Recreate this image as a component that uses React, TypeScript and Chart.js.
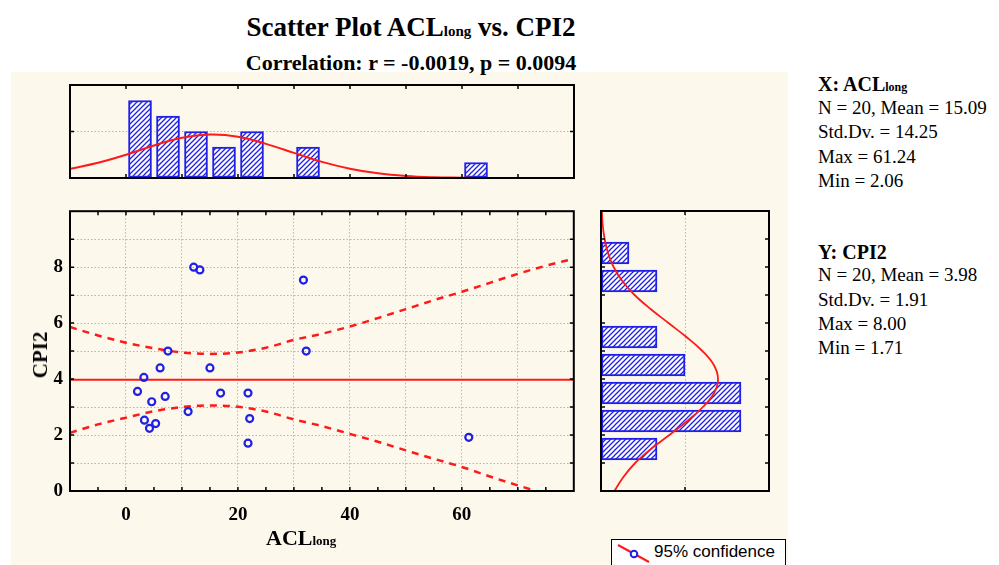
import React, { useEffect, useRef } from "react";
import { Chart, registerables } from "chart.js";
Chart.register(...registerables);

// ---------------- data ----------------
const ACL_LONG = [2.06, 3.2, 6.1, 15.0, 4.6, 7.0, 16.9, 21.8, 11.1, 3.3, 5.3, 4.2, 22.1, 21.8, 61.24, 12.1, 13.2, 31.7, 32.2, 7.5];
const CPI2 = [3.56, 4.06, 4.4, 4.4, 3.19, 3.38, 3.5, 3.5, 2.84, 2.53, 2.41, 2.24, 2.59, 1.71, 1.92, 8.0, 7.9, 7.54, 5.0, 5.0];
const MEAN_CPI2 = 3.98;

const BAND_X = [-10, -5, 0, 5, 10, 15, 20, 25, 30, 35, 40, 45, 50, 55, 60, 65, 70, 75, 80];
const BAND_UPPER = [5.86, 5.56, 5.3, 5.1, 4.95, 4.9, 4.95, 5.12, 5.4, 5.62, 5.88, 6.18, 6.5, 6.82, 7.12, 7.44, 7.76, 8.05, 8.3];
const BAND_LOWER = [2.08, 2.38, 2.62, 2.85, 3.0, 3.06, 3.01, 2.84, 2.56, 2.32, 2.04, 1.76, 1.45, 1.15, 0.86, 0.52, 0.2, -0.1, -0.35];

const X_HIST_CENTERS = [2.5, 7.5, 12.5, 17.5, 22.5, 32.5, 62.5];
const X_HIST_COUNTS = [5, 4, 3, 2, 3, 2, 1];
const X_CURVE_X = [-10, -5, 0, 5, 10, 15, 20, 25, 30, 35, 40, 45, 50, 55, 60, 62];
const X_CURVE_Y = [0.59, 0.98, 1.5, 2.1, 2.6, 2.8, 2.66, 2.2, 1.62, 1.04, 0.6, 0.3, 0.13, 0.05, 0.02, 0.01];

const Y_HIST_CENTERS = [1.5, 2.5, 3.5, 4.5, 5.5, 7.5, 8.5];
const Y_HIST_COUNTS = [2, 5, 5, 3, 2, 2, 1];
const Y_CURVE_Y = [0, 0.5, 1, 1.5, 2, 2.5, 3, 3.5, 4, 4.5, 5, 5.5, 6, 6.5, 7, 7.5, 8, 8.5, 9, 9.5, 10];
const Y_CURVE_COUNT = [0.48, 0.8, 1.22, 1.78, 2.44, 3.08, 3.64, 4.04, 4.18, 4.03, 3.62, 3.05, 2.41, 1.77, 1.2, 0.76, 0.45, 0.25, 0.13, 0.06, 0.03];

const X_TICK_LABELS = [0, 20, 40, 60];
const Y_TICK_LABELS = [0, 2, 4, 6, 8];

// ---------------- style ----------------
const BLUE = "#1f1fe6";
const RED = "#ff1a1a";
const GRID = "#b5b5b5";
const SERIF = "'Liberation Serif', 'Times New Roman', serif";

function makeHatch() {
  const s = 5;
  const c = document.createElement("canvas");
  c.width = s;
  c.height = s;
  const g = c.getContext("2d")!;
  g.fillStyle = "#fff";
  g.fillRect(0, 0, s, s);
  g.strokeStyle = BLUE;
  g.lineWidth = 1.3;
  g.beginPath();
  g.moveTo(0, s);
  g.lineTo(s, 0);
  g.moveTo(-1, 1);
  g.lineTo(1, -1);
  g.moveTo(s - 1, s + 1);
  g.lineTo(s + 1, s - 1);
  g.stroke();
  return g.createPattern(c, "repeat");
}

const framePlugin = {
  id: "frame",
  afterDraw(chart: any, _args: any, opts: any) {
    const { ctx, chartArea } = chart;
    const { left, top, right, bottom } = chartArea;
    ctx.save();
    ctx.strokeStyle = "#000";
    ctx.lineWidth = 1.5;
    const xs = chart.scales.x;
    const ys = chart.scales.y;
    (opts.xTicks || []).forEach((v: number) => {
      const p = xs.getPixelForValue(v);
      ctx.beginPath();
      ctx.moveTo(p, bottom);
      ctx.lineTo(p, bottom - 4);
      ctx.moveTo(p, top);
      ctx.lineTo(p, top + 4);
      ctx.stroke();
    });
    (opts.yTicks || []).forEach((v: number) => {
      const p = ys.getPixelForValue(v);
      ctx.beginPath();
      ctx.moveTo(left, p);
      ctx.lineTo(left + 4, p);
      ctx.moveTo(right, p);
      ctx.lineTo(right - 4, p);
      ctx.stroke();
    });
    ctx.lineWidth = 2;
    ctx.strokeRect(left, top, right - left, bottom - top);
    ctx.restore();
  },
};

function zeroPad(s: any) {
  s.paddingLeft = 0;
  s.paddingRight = 0;
  s.paddingTop = 0;
  s.paddingBottom = 0;
}

function ChartBox({ make, style }: { make: () => any; style: React.CSSProperties }) {
  const ref = useRef<HTMLCanvasElement>(null);
  useEffect(() => {
    const chart = new Chart(ref.current!, make());
    return () => chart.destroy();
  }, []);
  return (
    <canvas
      ref={ref}
      width={style.width as number}
      height={style.height as number}
      style={{ position: "absolute", ...style }}
    />
  );
}

const basePlugins = { legend: { display: false }, tooltip: { enabled: false } };

function makeMain() {
  return {
    type: "scatter",
    data: {
      datasets: [
        {
          data: ACL_LONG.map((x, i) => ({ x, y: CPI2[i] })),
          pointStyle: "circle",
          pointRadius: 3.5,
          pointBorderWidth: 2.2,
          borderColor: BLUE,
          backgroundColor: "rgba(255,255,255,0)",
          pointBackgroundColor: "rgba(255,255,255,0)",
          pointBorderColor: BLUE,
          order: 0,
        },
        {
          data: [{ x: -10, y: MEAN_CPI2 }, { x: 80, y: MEAN_CPI2 }],
          showLine: true,
          borderColor: RED,
          borderWidth: 2,
          pointRadius: 0,
          order: 1,
        },
        {
          data: BAND_X.map((x, i) => ({ x, y: BAND_UPPER[i] })),
          showLine: true,
          borderColor: RED,
          borderWidth: 2.5,
          borderDash: [7, 6],
          pointRadius: 0,
          cubicInterpolationMode: "monotone",
          order: 2,
        },
        {
          data: BAND_X.map((x, i) => ({ x, y: BAND_LOWER[i] })),
          showLine: true,
          borderColor: RED,
          borderWidth: 2.5,
          borderDash: [7, 6],
          pointRadius: 0,
          cubicInterpolationMode: "monotone",
          order: 3,
        },
      ],
    },
    options: {
      responsive: false,
      animation: false,
      layout: { padding: { top: 6, right: 6, left: 0, bottom: 0 } },
      plugins: {
        ...basePlugins,
        frame: { xTicks: [-5, 0, 5, 10, 15, 20, 25, 30, 35, 40, 45, 50, 55, 60, 65, 70, 75], yTicks: [1, 2, 3, 4, 5, 6, 7, 8, 9] },
      },
      scales: {
        x: {
          type: "linear",
          min: -10,
          max: 80,
          border: { display: false, dash: [1.5, 2] },
          grid: { color: GRID, drawTicks: false, lineWidth: 1 },
          ticks: {
            stepSize: 10,
            padding: 13,
            color: "#000",
            font: { family: SERIF, weight: "bold", size: 19 },
            callback: (v: number) => (X_TICK_LABELS.includes(v) ? String(v) : ""),
          },
          afterFit: (s: any) => {
            s.height = 44;
            zeroPad(s);
          },
        },
        y: {
          type: "linear",
          min: 0,
          max: 10,
          border: { display: false, dash: [1.5, 2] },
          grid: { color: GRID, drawTicks: false, lineWidth: 1 },
          ticks: {
            stepSize: 1,
            padding: 7,
            color: "#000",
            font: { family: SERIF, weight: "bold", size: 19 },
            callback: (v: number) => (Y_TICK_LABELS.includes(v) ? String(v) : ""),
          },
          afterFit: (s: any) => {
            s.width = 50;
            zeroPad(s);
          },
        },
      },
    },
    plugins: [framePlugin],
  };
}

function makeTop() {
  return {
    type: "bar",
    data: {
      datasets: [
        {
          type: "line",
          data: X_CURVE_X.map((x, i) => ({ x, y: X_CURVE_Y[i] })),
          borderColor: RED,
          borderWidth: 2,
          pointRadius: 0,
          tension: 0.4,
          order: 0,
        },
        {
          type: "bar",
          data: X_HIST_CENTERS.map((x, i) => ({ x, y: X_HIST_COUNTS[i] })),
          backgroundColor: makeHatch(),
          borderColor: BLUE,
          borderWidth: 2,
          borderSkipped: false,
          barThickness: 23,
          order: 1,
        },
      ],
    },
    options: {
      responsive: false,
      animation: false,
      layout: { padding: { top: 6, right: 6, left: 50, bottom: 1 } },
      plugins: { ...basePlugins, frame: { xTicks: [0, 10, 20, 30, 40, 50, 60, 70], yTicks: [3] } },
      scales: {
        x: {
          type: "linear",
          min: -10,
          max: 80,
          offset: false,
          border: { display: false },
          grid: { display: false, offset: false },
          ticks: { display: false },
          afterFit: (s: any) => {
            s.height = 0;
            zeroPad(s);
          },
        },
        y: {
          type: "linear",
          min: 0,
          max: 6,
          border: { display: false, dash: [1.5, 2] },
          grid: { color: GRID, drawTicks: false },
          ticks: { display: false, stepSize: 3 },
          afterFit: (s: any) => {
            s.width = 0;
            zeroPad(s);
          },
        },
      },
    },
    plugins: [framePlugin],
  };
}

function makeRight() {
  return {
    type: "bar",
    data: {
      datasets: [
        {
          type: "line",
          data: Y_CURVE_Y.map((y, i) => ({ x: Y_CURVE_COUNT[i], y })),
          borderColor: RED,
          borderWidth: 1.8,
          pointRadius: 0,
          tension: 0.4,
          indexAxis: "y",
          order: 0,
        },
        {
          type: "bar",
          data: Y_HIST_CENTERS.map((y, i) => ({ x: Y_HIST_COUNTS[i], y })),
          backgroundColor: makeHatch(),
          borderColor: BLUE,
          borderWidth: 2,
          borderSkipped: false,
          barThickness: 22,
          order: 1,
        },
      ],
    },
    options: {
      indexAxis: "y",
      responsive: false,
      animation: false,
      layout: { padding: { top: 6, right: 6, left: 6, bottom: 6 } },
      plugins: { ...basePlugins, frame: { xTicks: [3], yTicks: [1, 2, 3, 4, 5, 6, 7, 8, 9] } },
      scales: {
        x: {
          type: "linear",
          min: 0,
          max: 6,
          offset: false,
          border: { display: false, dash: [1.5, 2] },
          grid: { color: GRID, drawTicks: false },
          ticks: { display: false, stepSize: 3 },
          afterFit: (s: any) => {
            s.height = 0;
            zeroPad(s);
          },
        },
        y: {
          type: "linear",
          min: 0,
          max: 10,
          offset: false,
          border: { display: false },
          grid: { display: false, offset: false },
          ticks: { display: false },
          afterFit: (s: any) => {
            s.width = 0;
            zeroPad(s);
          },
        },
      },
    },
    plugins: [framePlugin],
  };
}

const statLine: React.CSSProperties = {
  position: "absolute",
  left: 818,
  fontFamily: SERIF,
  fontSize: 19,
  lineHeight: "24px",
  whiteSpace: "nowrap",
  color: "#000",
};

export default function App() {
  return (
    <div style={{ position: "absolute", left: 0, top: 0, width: 999, height: 565, background: "#fff", overflow: "hidden" }}>
      <div style={{ position: "absolute", left: 11, top: 72, width: 777, height: 493, background: "#fdf8ec" }} />
      <div
        style={{
          position: "absolute",
          left: 0,
          width: 822,
          top: 10,
          textAlign: "center",
          fontFamily: SERIF,
          fontWeight: "bold",
          fontSize: 27,
          lineHeight: "34px",
          whiteSpace: "nowrap",
        }}
      >
        Scatter Plot ACL<span style={{ fontSize: 15 }}>long</span> vs. CPI2
      </div>
      <div
        style={{
          position: "absolute",
          left: 0,
          width: 822,
          top: 49,
          textAlign: "center",
          fontFamily: SERIF,
          fontWeight: "bold",
          fontSize: 22,
          lineHeight: "28px",
          whiteSpace: "nowrap",
        }}
      >
        Correlation: r = -0.0019, p = 0.0094
      </div>

      <ChartBox make={makeTop} style={{ left: 20, top: 79, width: 560, height: 100 }} />
      <ChartBox make={makeMain} style={{ left: 20, top: 205, width: 560, height: 330 }} />
      <ChartBox make={makeRight} style={{ left: 595, top: 205, width: 180, height: 292 }} />

      <div
        style={{
          position: "absolute",
          left: 266,
          top: 524,
          fontFamily: SERIF,
          fontWeight: "bold",
          fontSize: 22,
          lineHeight: "28px",
          whiteSpace: "nowrap",
        }}
      >
        ACL<span style={{ fontSize: 13 }}>long</span>
      </div>
      <div
        style={{
          position: "absolute",
          left: 40,
          top: 355,
          transform: "translate(-50%, -50%) rotate(-90deg)",
          fontFamily: SERIF,
          fontWeight: "bold",
          fontSize: 21,
          lineHeight: "24px",
          whiteSpace: "nowrap",
        }}
      >
        CPI2
      </div>

      <div style={{ ...statLine, top: 72, fontWeight: "bold", fontSize: 20 }}>
        X: ACL<span style={{ fontSize: 12 }}>long</span>
      </div>
      <div style={{ ...statLine, top: 96 }}>N = 20, Mean = 15.09</div>
      <div style={{ ...statLine, top: 120 }}>Std.Dv. = 14.25</div>
      <div style={{ ...statLine, top: 145 }}>Max = 61.24</div>
      <div style={{ ...statLine, top: 169 }}>Min = 2.06</div>

      <div style={{ ...statLine, top: 240, fontWeight: "bold", fontSize: 20 }}>Y: CPI2</div>
      <div style={{ ...statLine, top: 263 }}>N = 20, Mean = 3.98</div>
      <div style={{ ...statLine, top: 288 }}>Std.Dv. = 1.91</div>
      <div style={{ ...statLine, top: 312 }}>Max = 8.00</div>
      <div style={{ ...statLine, top: 336 }}>Min = 1.71</div>

      <div
        style={{
          position: "absolute",
          left: 611,
          top: 539,
          width: 173,
          height: 34,
          border: "1.5px solid #000",
          background: "#fff",
        }}
      >
        <svg width="36" height="24" style={{ position: "absolute", left: 4, top: 2 }}>
          <line x1="2" y1="3" x2="33" y2="20" stroke={RED} strokeWidth="2" />
          <circle cx="18" cy="12" r="3.3" fill="#fff" stroke={BLUE} strokeWidth="2" />
        </svg>
        <div
          style={{
            position: "absolute",
            left: 42,
            top: 1,
            fontFamily: "'Liberation Sans', Arial, sans-serif",
            fontSize: 17,
            lineHeight: "22px",
            whiteSpace: "nowrap",
          }}
        >
          95% confidence
        </div>
      </div>
    </div>
  );
}
